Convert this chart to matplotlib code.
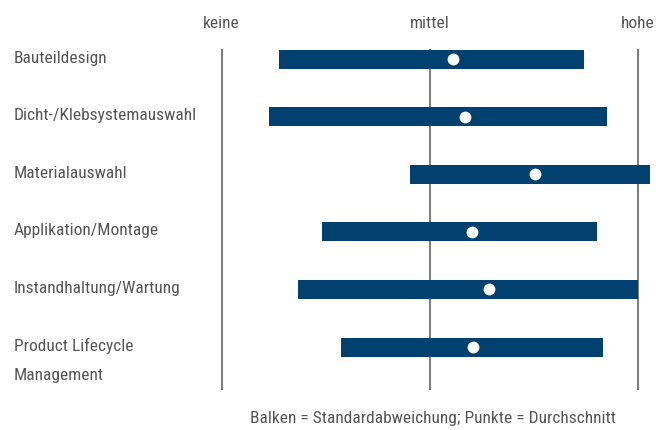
import matplotlib
matplotlib.use("Agg")
import matplotlib.pyplot as plt
import matplotlib.transforms as mt
from matplotlib import font_manager

names = {f.name for f in font_manager.fontManager.ttflist}
fam = [f for f in ["Liberation Sans Narrow", "Roboto Condensed", "Open Sans Condensed", "DejaVu Sans"] if f in names]
plt.rcParams['font.family'] = fam

categories = ["Bauteildesign", "Dicht-/Klebsystemauswahl", "Materialauswahl",
              "Applikation/Montage", "Instandhaltung/Wartung", "Product Lifecycle\nManagement"]
bar_start = [0.275, 0.227, 0.907, 0.483, 0.368, 0.575]
bar_end = [1.743, 1.852, 2.061, 1.805, 2.000, 1.835]
means = [1.112, 1.170, 1.508, 1.202, 1.285, 1.207]
scale_labels = ["keine", "mittel", "hohe"]
scale_pos = [0, 1, 2]
footer = "Balken = Standardabweichung; Punkte = Durchschnitt"

W, H = 656, 430
fig = plt.figure(figsize=(W / 100, H / 100), dpi=100)
ax = fig.add_axes([0, 0, 1, 1])
ppu = 208.0
x0 = 221.7
ax.set_xlim(-x0 / ppu, (W - x0) / ppu)
rowp = 57.6
y0 = 59.0
ax.set_ylim((H - y0) / rowp, -y0 / rowp)
ax.axis("off")

txtc = "#555555"
fs = 12.5
for p, lab in zip(scale_pos, scale_labels):
    ax.plot([p, p], [(50 - y0) / rowp, (389 - y0) / rowp], color="#7f7f7f", lw=1.5, zorder=1)
    ax.text(p, (23 - y0) / rowp, lab, ha="center", va="center", color=txtc, fontsize=fs)

ys = list(range(len(categories)))
ax.barh(ys, [e - s for s, e in zip(bar_start, bar_end)], left=bar_start,
        height=19 / rowp, color="#02406f", zorder=2)
ax.plot(means, ys, "o", color="white", markersize=8.5, markeredgewidth=0, zorder=3)

tr = mt.blended_transform_factory(fig.transFigure, ax.transData)
for y, c in zip(ys, categories):
    for k, line in enumerate(c.split("\n")):
        ax.text(14 / W, y - 1 / rowp + k * 29 / rowp, line, transform=tr, ha="left", va="center",
                color=txtc, fontsize=fs)

ax.text(433 / W, (419 - y0) / rowp, footer, transform=tr, ha="center", va="center",
        color=txtc, fontsize=fs)

fig.savefig("out.png", dpi=100)
